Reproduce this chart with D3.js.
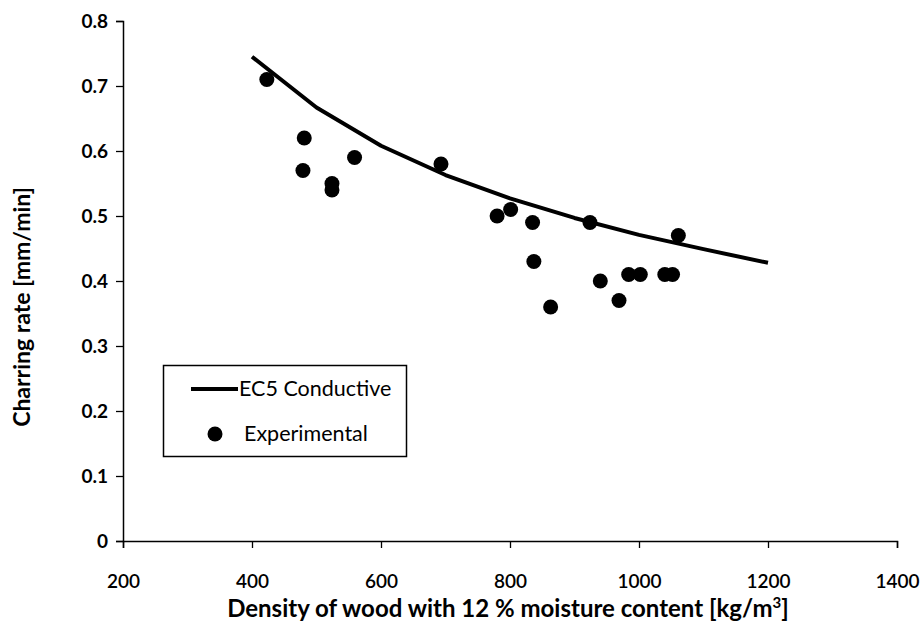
<!DOCTYPE html>
<html><head><meta charset="utf-8">
<script src="https://cdn.jsdelivr.net/npm/d3@7"></script>
<style>body{margin:0;background:#fff}svg{display:block}</style>
</head><body>
<svg id="c" width="921" height="637"></svg>
<script>
const xTicks = [200, 400, 600, 800, 1000, 1200, 1400];
const yTicks = [0, 0.1, 0.2, 0.3, 0.4, 0.5, 0.6, 0.7, 0.8];
const modelDensity = [400, 500, 600, 700, 800, 900, 1000, 1100, 1200];
const modelRate = [0.745, 0.667, 0.608, 0.563, 0.527, 0.497, 0.471, 0.449, 0.428];
const expDensity = [423, 481, 479, 524, 524, 559, 693, 780, 801, 835, 837, 863, 924, 940, 969, 984, 1002, 1040, 1052, 1061];
const expRate = [0.71, 0.62, 0.57, 0.55, 0.54, 0.59, 0.58, 0.50, 0.51, 0.49, 0.43, 0.36, 0.49, 0.40, 0.37, 0.41, 0.41, 0.41, 0.41, 0.47];
const seriesNames = ["EC5 Conductive", "Experimental"];
const xTitle = "Density of wood with 12 % moisture content [kg/m";
const yTitle = "Charring rate [mm/min]";

const svg = d3.select("#c");
const font = "Lato, 'Open Sans', sans-serif";
const x = d3.scaleLinear().domain([200, 1400]).range([123, 897]);
const y = d3.scaleLinear().domain([0, 0.8]).range([541, 21]);

const xAxis = svg.append("g").attr("transform", "translate(0,541)")
  .call(d3.axisBottom(x).tickValues(xTicks).tickSize(7).tickPadding(27).tickFormat(d3.format("d")));
const yAxis = svg.append("g").attr("transform", "translate(123,0)")
  .call(d3.axisLeft(y).tickValues(yTicks).tickSize(7).tickPadding(8).tickFormat(d => d === 0 ? "0" : d3.format(".1f")(d)));
[xAxis, yAxis].forEach(a => {
  a.select(".domain").attr("stroke", "#000").attr("stroke-width", 1.5);
  a.selectAll(".tick line").attr("stroke", "#000").attr("stroke-width", 1.3);
  a.selectAll("text").attr("fill", "#000").style("font-family", font);
});
xAxis.selectAll("text").style("font-size", "19px").style("font-weight", "600");
yAxis.selectAll("text").style("font-size", "19px").style("font-weight", "bold").attr("dy", "0.35em");

const model = modelDensity.map((d, i) => [d, modelRate[i]]);
svg.append("path").datum(model)
  .attr("fill", "none").attr("stroke", "#000").attr("stroke-width", 4).attr("stroke-linejoin", "round")
  .attr("d", d3.line().x(d => x(d[0])).y(d => y(d[1])));

const pts = expDensity.map((d, i) => [d, expRate[i]]);
svg.append("g").selectAll("circle").data(pts).join("circle")
  .attr("cx", d => x(d[0])).attr("cy", d => y(d[1])).attr("r", 7.5).attr("fill", "#000");

// legend
const lg = svg.append("g");
lg.append("rect").attr("x", 163.5).attr("y", 365.5).attr("width", 243).attr("height", 91)
  .attr("fill", "#fff").attr("stroke", "#000").attr("stroke-width", 1.5);
lg.append("line").attr("x1", 191).attr("x2", 238).attr("y1", 389).attr("y2", 389)
  .attr("stroke", "#000").attr("stroke-width", 4);
lg.append("circle").attr("cx", 215).attr("cy", 434).attr("r", 7.5).attr("fill", "#000");
lg.selectAll("text.lt").data(seriesNames).join("text").attr("class", "lt")
  .attr("x", (d, i) => i === 0 ? 239 : 244).attr("y", (d, i) => i === 0 ? 396 : 441)
  .style("font-family", font).style("font-size", "21.5px").attr("fill", "#000").text(d => d);

// titles
const xt = svg.append("text").attr("x", 508).attr("y", 617).attr("text-anchor", "middle")
  .style("font-family", font).style("font-size", "24px").style("font-weight", "bold").attr("fill", "#000");
xt.append("tspan").text(xTitle);
xt.append("tspan").attr("dy", -9).style("font-size", "15px").text("3");
xt.append("tspan").attr("dy", 9).text("]");
svg.append("text").attr("transform", "translate(30,307) rotate(-90)").attr("text-anchor", "middle")
  .style("font-family", font).style("font-size", "23px").style("font-weight", "bold").attr("fill", "#000").text(yTitle);
</script>
</body></html>
